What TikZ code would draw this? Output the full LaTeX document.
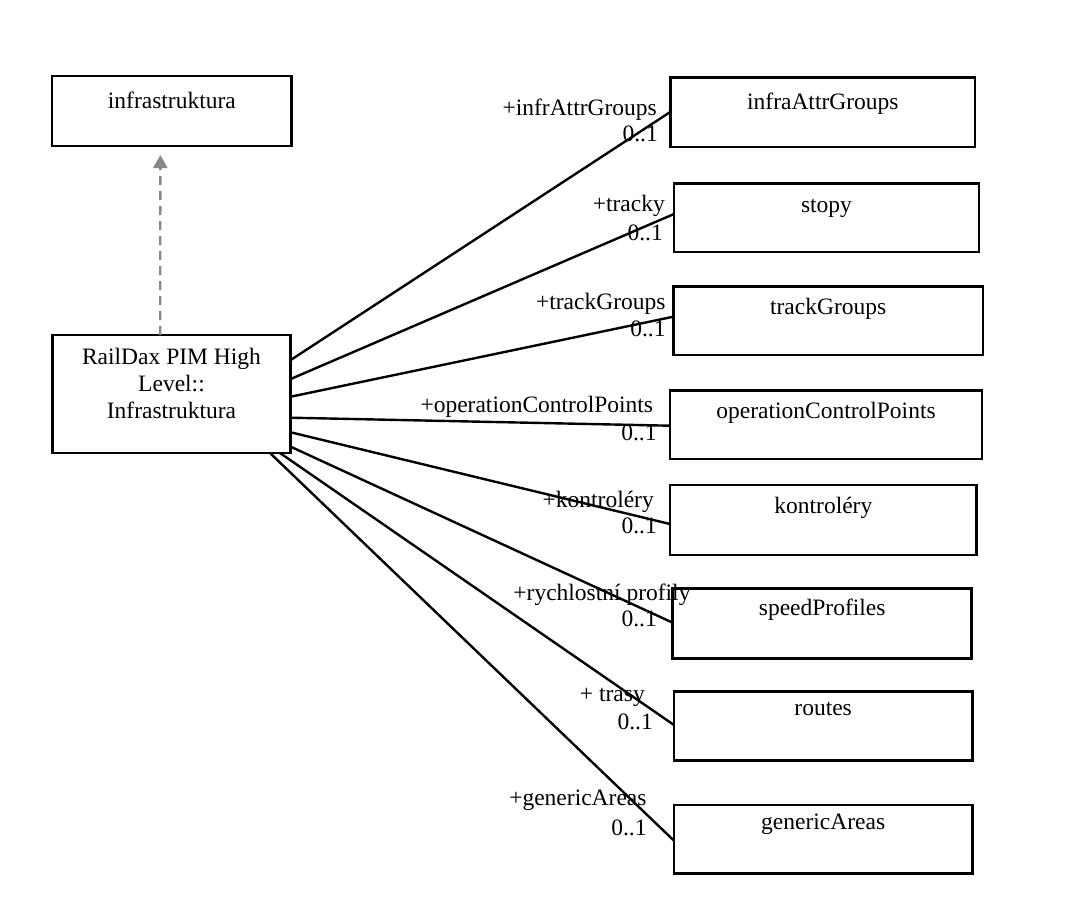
\documentclass[tikz,border=0pt]{standalone}
\usepackage{fontspec}
\setmainfont{Liberation Serif}
\usetikzlibrary{arrows.meta}
\definecolor{depgray}{HTML}{888888}
\begin{document}
\begin{tikzpicture}[x=1pt,y=-1pt,
  txt/.style={font=\fontsize{23.5}{27}\selectfont},
  box/.style={draw=black, line width=2.6pt, fill=white, inner xsep=0pt, inner ysep=0pt,
    outer sep=0pt, anchor=north west, txt},
  lbl/.style={anchor=base east, inner sep=0pt, txt},
  conn/.style={line width=2.4pt, draw=black},
  dep/.style={line width=2.4pt, draw=depgray, dash pattern=on 9pt off 6pt,
    -{Triangle[width=14pt,length=13pt,fill=depgray]}}]
\useasboundingbox (0,0) rectangle (1089,914);

% left boxes
\node[box, minimum width=239.7pt, text height=32pt, text depth=38pt] (infra) at (52,76) {infrastruktura};
\node[box, minimum width=238pt, minimum height=118pt] (main) at (52.7,335) {};
\node[anchor=north, align=center, inner sep=0pt, txt] (maintext) at (171.5,348) {RailDax PIM High\\Level::\\Infrastruktura};

% right boxes
\node[box, minimum width=304.3pt, text height=31.5pt, text depth=38pt] (b1) at (670.7,77.5) {infraAttrGroups};
\node[box, minimum width=305pt, text height=29.4pt, text depth=39.3pt] (b2) at (674,183.3) {stopy};
\node[box, minimum width=309.7pt, text height=27.3pt, text depth=41pt] (b3) at (673.3,286.7) {trackGroups};
\node[box, minimum width=312pt, text height=27.6pt, text depth=40.7pt] (b4) at (670,390.7) {operationControlPoints};
\node[box, minimum width=306.7pt, text height=28pt, text depth=42pt] (b5) at (670,485) {kontroléry};
\node[box, minimum width=299pt, text height=26.7pt, text depth=43.3pt] (b6) at (672.7,588.3) {speedProfiles};
\node[box, minimum width=298.3pt, text height=23.8pt, text depth=45.2pt] (b7) at (674,691.7) {routes};
\node[box, minimum width=298.3pt, text height=24.3pt, text depth=44pt] (b8) at (674,805) {genericAreas};

% dependency
\draw[dep, shorten >=9pt] ([xshift=-11.5pt]main.north) -- ([xshift=-11.5pt]infra.south);

% associations
\draw[conn] ([yshift=-25pt]main.north east) -- ([yshift=-34.2pt]b1.north west);
\draw[conn] ([yshift=-44pt]main.north east) -- ([yshift=-30.7pt]b2.north west);
\draw[conn] ([yshift=-61.7pt]main.north east) -- ([yshift=-30pt]b3.north west);
\draw[conn] ([yshift=-82.7pt]main.north east) -- ([yshift=-35pt]b4.north west);
\draw[conn] ([yshift=-97.3pt]main.north east) -- ([yshift=-39pt]b5.north west);
\draw[conn] ([yshift=-111.7pt]main.north east) -- ([yshift=-34.4pt]b6.north west);
\draw[conn] ([xshift=-10.7pt]main.south east) -- ([yshift=-33.3pt]b7.north west);
\draw[conn] ([xshift=-20.7pt]main.south east) -- ([yshift=-35.7pt]b8.north west);

% role names and multiplicities
\node[lbl] (r1) at (657,115) {+infrAttrGroups};
\node[lbl] (m1) at (658,141.7) {0..1};
\node[lbl] (r2) at (665,211.7) {+tracky};
\node[lbl] (m2) at (663,240) {0..1};
\node[lbl] (r3) at (665.7,309.3) {+trackGroups};
\node[lbl] (m3) at (665.7,336) {0..1};
\node[lbl] (r4) at (653.3,412.7) {+operationControlPoints};
\node[lbl] (m4) at (656.7,440.7) {0..1};
\node[lbl] (r5) at (654,507.7) {+kontroléry};
\node[lbl] (m5) at (657,533) {0..1};
\node[lbl] (r6) at (690.7,600) {+rychlostní profily};
\node[lbl] (m6) at (657,626.7) {0..1};
\node[lbl] (r7) at (645,701.7) {+ trasy};
\node[lbl] (m7) at (653,729.3) {0..1};
\node[lbl] (r8) at (646.7,805) {+genericAreas};
\node[lbl] (m8) at (646.7,835) {0..1};
\end{tikzpicture}
\end{document}
